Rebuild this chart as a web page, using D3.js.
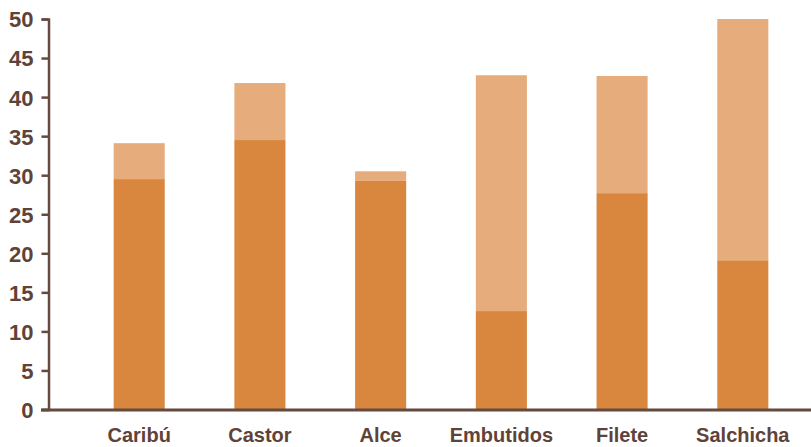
<!DOCTYPE html>
<html>
<head>
<meta charset="utf-8">
<script src="https://cdn.jsdelivr.net/npm/d3@7"></script>
<style>
  html, body { margin: 0; padding: 0; background: #fff; }
  svg { display: block; }
  text { font-family: "Liberation Sans", Arial, sans-serif; font-weight: bold; fill: #5f4338; }
</style>
</head>
<body>
<svg id="chart" width="811" height="447"></svg>
<script>
// Categories and the two stacked parts of each bar
const categories = ["Caribú", "Castor", "Alce", "Embutidos", "Filete", "Salchicha"];
const baseValues = [29.5, 34.5, 29.3, 12.6, 27.7, 19.1];
const totalValues = [34.1, 41.8, 30.5, 42.8, 42.7, 50.0];
const yTicks = [0, 5, 10, 15, 20, 25, 30, 35, 40, 45, 50];

const W = 811, H = 447;
const axisColor = "#654a40";
const darkColor = "#d9863f";
const lightColor = "#e7ac7b";

const svg = d3.select("#chart");

const x = d3.scaleBand()
  .domain(categories)
  .range([44, 838])
  .padding(0.577);

const y = d3.scaleLinear()
  .domain([0, 50])
  .range([409.5, 19]);

const rows = categories.map((c, i) => ({ cat: c, base: baseValues[i], total: totalValues[i] }));

// Upper (lighter) segment: from base value to total
svg.append("g").selectAll("rect")
  .data(rows)
  .join("rect")
  .attr("x", d => x(d.cat))
  .attr("width", x.bandwidth())
  .attr("y", d => y(d.total))
  .attr("height", d => y(d.base) - y(d.total))
  .attr("fill", lightColor);

// Lower (darker) segment: from zero to base value
svg.append("g").selectAll("rect")
  .data(rows)
  .join("rect")
  .attr("x", d => x(d.cat))
  .attr("width", x.bandwidth())
  .attr("y", d => y(d.base))
  .attr("height", d => y(0) - y(d.base))
  .attr("fill", darkColor);

// Y axis
const yAxis = svg.append("g")
  .attr("transform", "translate(48.5,0)")
  .call(d3.axisLeft(y).tickValues(yTicks).tickSize(7).tickPadding(8).tickFormat(d3.format("d")));
yAxis.select(".domain").attr("stroke", axisColor).attr("stroke-width", 2.5);
yAxis.selectAll(".tick line").attr("stroke", axisColor).attr("stroke-width", 2.5);
yAxis.selectAll(".tick text")
  .attr("font-size", 22)
  .attr("font-family", null)
  .attr("fill", null)
  .attr("dy", "0.36em");

// Baseline across the chart
svg.append("line")
  .attr("x1", 41).attr("x2", W)
  .attr("y1", y(0) + 0.5).attr("y2", y(0) + 0.5)
  .attr("stroke", axisColor)
  .attr("stroke-width", 3);

// Category labels
svg.append("g").selectAll("text")
  .data(categories)
  .join("text")
  .attr("x", d => x(d) + x.bandwidth() / 2)
  .attr("y", 442)
  .attr("text-anchor", "middle")
  .attr("font-size", 20)
  .text(d => d);
</script>
</body>
</html>
